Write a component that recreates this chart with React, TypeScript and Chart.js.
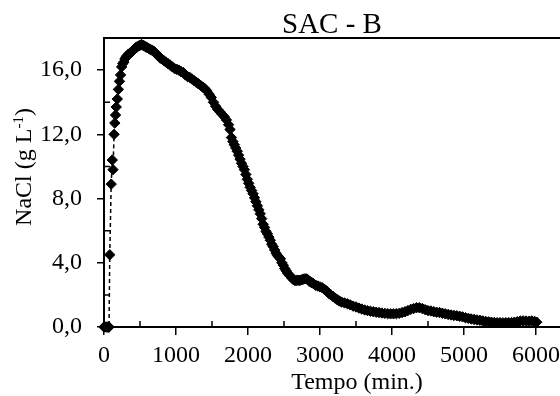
import React, { useEffect, useRef } from "react";
import { Chart, registerables } from "chart.js";

Chart.register(...registerables);

const TITLE = "SAC - B";
const X_TITLE = "Tempo (min.)";
const Y_TITLE_MAIN = "NaCl (g L";
const Y_TITLE_SUP = "-1";
const Y_TITLE_END = ")";

const X_TICKS = [0, 1000, 2000, 3000, 4000, 5000, 6000];
const X_MINOR = [500, 1500, 2500, 3500, 4500, 5500];
const Y_TICKS = [0, 4, 8, 12, 16];
const Y_MINOR = [2, 6, 10, 14];

const TIME = [
  0, 15, 30, 45, 60, 70, 80, 100, 115, 125, 140, 150, 160, 170, 185, 200, 215, 230, 245, 260,
  275, 290, 305, 320, 340, 360, 380, 400, 420, 440, 460, 480, 500, 520, 540, 560, 580, 600, 620, 640,
  660, 680, 700, 720, 740, 760, 780, 800, 830, 860, 890, 920, 950, 980, 1010, 1040, 1070, 1100, 1130, 1160,
  1190, 1220, 1250, 1280, 1310, 1340, 1370, 1400, 1430, 1460, 1490, 1520, 1550, 1580, 1610, 1640, 1670, 1700, 1730, 1750,
  1770, 1790, 1810, 1830, 1850, 1870, 1890, 1910, 1930, 1950, 1970, 1990, 2010, 2030, 2050, 2070, 2090, 2110, 2130, 2150,
  2170, 2190, 2210, 2230, 2250, 2270, 2290, 2310, 2330, 2350, 2370, 2390, 2410, 2430, 2450, 2470, 2490, 2510, 2530, 2550,
  2570, 2590, 2610, 2630, 2650, 2670, 2690, 2710, 2730, 2750, 2770, 2790, 2810, 2830, 2850, 2870, 2890, 2910, 2940, 2970,
  3000, 3030, 3060, 3090, 3120, 3150, 3180, 3210, 3240, 3270, 3300, 3340, 3380, 3420, 3460, 3500, 3540, 3580, 3620, 3660,
  3700, 3740, 3780, 3820, 3860, 3900, 3940, 3980, 4020, 4060, 4100, 4140, 4180, 4220, 4260, 4300, 4340, 4380, 4420, 4460,
  4500, 4540, 4580, 4620, 4660, 4700, 4740, 4780, 4820, 4860, 4900, 4940, 4980, 5020, 5060, 5100, 5140, 5180, 5220, 5260,
  5300, 5340, 5380, 5420, 5460, 5500, 5540, 5580, 5620, 5660, 5700, 5740, 5780, 5820, 5860, 5900, 5940, 5980, 6010,
];

const NACL = [
  0, 0, 0, 0, 0, 0, 4.5, 8.9, 10.4, 9.8, 12.0, 12.7, 13.2, 13.7, 14.2, 14.8, 15.3, 15.7, 16.2, 16.4,
  16.5, 16.7, 16.8, 16.9, 17.0, 17.05, 17.1, 17.2, 17.3, 17.4, 17.45, 17.5, 17.55, 17.6, 17.55, 17.5, 17.45, 17.4, 17.35, 17.3,
  17.25, 17.2, 17.15, 17.05, 16.95, 16.85, 16.75, 16.7, 16.6, 16.5, 16.4, 16.3, 16.2, 16.1, 16.05, 16.0, 15.9, 15.85, 15.7, 15.6,
  15.55, 15.45, 15.35, 15.25, 15.15, 15.05, 14.95, 14.85, 14.7, 14.5, 14.3, 14.0, 13.75, 13.55, 13.4, 13.25, 13.1, 12.9, 12.6, 12.3,
  11.8, 11.55, 11.35, 11.15, 10.95, 10.7, 10.45, 10.2, 10.0, 9.8, 9.5, 9.2, 8.95, 8.7, 8.5, 8.3, 8.05, 7.8, 7.55, 7.3,
  7.05, 6.75, 6.4, 6.2, 5.95, 5.8, 5.6, 5.4, 5.15, 5.0, 4.8, 4.6, 4.45, 4.35, 4.25, 4.0, 3.85, 3.65, 3.5, 3.35,
  3.25, 3.15, 3.05, 2.95, 2.9, 2.9, 2.92, 2.9, 2.92, 2.95, 2.98, 3.0, 3.0, 2.95, 2.85, 2.8, 2.75, 2.7, 2.6, 2.55,
  2.5, 2.45, 2.35, 2.25, 2.1, 2.0, 1.9, 1.8, 1.7, 1.62, 1.55, 1.5, 1.45, 1.38, 1.3, 1.25, 1.18, 1.12, 1.06, 1.02,
  0.98, 0.95, 0.92, 0.9, 0.87, 0.85, 0.83, 0.82, 0.82, 0.83, 0.85, 0.9, 0.95, 1.02, 1.1, 1.15, 1.2, 1.2, 1.15, 1.08,
  1.02, 1.0, 0.95, 0.92, 0.9, 0.86, 0.82, 0.78, 0.75, 0.72, 0.7, 0.67, 0.63, 0.58, 0.54, 0.5, 0.47, 0.44, 0.42, 0.38,
  0.35, 0.32, 0.3, 0.28, 0.27, 0.27, 0.26, 0.27, 0.27, 0.28, 0.3, 0.33, 0.37, 0.38, 0.37, 0.36, 0.38, 0.35, 0.3,
];

const FONT = "'Liberation Serif', 'Times New Roman', serif";

const framePlugin = {
  id: "frame",
  afterDatasetsDraw(chart: any) {
    const { ctx, chartArea, scales } = chart;
    const { left, right, top, bottom } = chartArea;
    ctx.save();
    ctx.strokeStyle = "#000";
    ctx.lineWidth = 2;
    ctx.beginPath();
    ctx.moveTo(left - 1, top);
    ctx.lineTo(right, top);
    ctx.stroke();
    ctx.lineWidth = 1.5;
    ctx.beginPath();
    Y_MINOR.forEach((v) => {
      const y = scales.y.getPixelForValue(v);
      ctx.moveTo(left, y);
      ctx.lineTo(left + 6, y);
    });
    X_MINOR.forEach((v) => {
      const x = scales.x.getPixelForValue(v);
      ctx.moveTo(x, bottom);
      ctx.lineTo(x, bottom - 6);
    });
    ctx.stroke();

    // x axis title
    ctx.fillStyle = "#000";
    ctx.font = `24px ${FONT}`;
    ctx.textAlign = "center";
    ctx.textBaseline = "alphabetic";
    ctx.fillText(X_TITLE, 357, 389);

    // y axis title with superscript
    ctx.translate(31, 167);
    ctx.rotate(-Math.PI / 2);
    const mainFont = `24px ${FONT}`;
    const supFont = `15px ${FONT}`;
    ctx.font = mainFont;
    const w1 = ctx.measureText(Y_TITLE_MAIN).width;
    const w3 = ctx.measureText(Y_TITLE_END).width;
    ctx.font = supFont;
    const w2 = ctx.measureText(Y_TITLE_SUP).width;
    const total = w1 + w2 + w3;
    let x0 = -total / 2;
    ctx.textAlign = "left";
    ctx.font = mainFont;
    ctx.fillText(Y_TITLE_MAIN, x0, 0);
    x0 += w1;
    ctx.font = supFont;
    ctx.fillText(Y_TITLE_SUP, x0, -8);
    x0 += w2;
    ctx.font = mainFont;
    ctx.fillText(Y_TITLE_END, x0, 0);
    ctx.restore();
  },
};

export default function App() {
  const ref = useRef<HTMLCanvasElement | null>(null);
  useEffect(() => {
    if (!ref.current) return;
    const chart = new Chart(ref.current, {
      type: "scatter",
      data: {
        datasets: [
          {
            data: TIME.map((t, i) => ({ x: t, y: NACL[i] })),
            showLine: true,
            borderColor: "#000",
            borderWidth: 1.5,
            borderDash: [4, 3],
            tension: 0,
            pointStyle: "rectRot",
            pointRadius: 5.2,
            pointBackgroundColor: "#000",
            pointBorderColor: "#000",
            pointBorderWidth: 1,
            clip: false as any,
          },
        ],
      },
      options: {
        animation: false,
        responsive: false,
        devicePixelRatio: 1,
        layout: { padding: 0, autoPadding: false },
        plugins: {
          legend: { display: false },
          tooltip: { enabled: false },
          title: {
            display: true,
            text: TITLE,
            color: "#000",
            fullSize: false,
            font: { family: FONT, size: 29, weight: "normal", lineHeight: 1 },
            padding: { top: 11, bottom: -2 },
          },
        },
        scales: {
          x: {
            type: "linear",
            min: 0,
            max: 6333,
            afterBuildTicks: (scale: any) => {
              scale.ticks = X_TICKS.map((v) => ({ value: v }));
            },
            afterFit: (scale: any) => {
              scale.height = 69;
              scale.paddingLeft = 0;
              scale.paddingRight = 0;
            },
            ticks: {
              color: "#000",
              font: { family: FONT, size: 24 },
              padding: 6,
              maxRotation: 0,
              autoSkip: false,
              callback: (v: any) => String(v),
            },
            grid: {
              display: true,
              drawOnChartArea: false,
              drawTicks: true,
              tickLength: 8,
              color: "#000",
              lineWidth: 1.5,
            },
            border: { display: true, color: "#000", width: 2 },
          },
          y: {
            type: "linear",
            min: 0,
            max: 18,
            afterBuildTicks: (scale: any) => {
              scale.ticks = Y_TICKS.map((v) => ({ value: v }));
            },
            afterFit: (scale: any) => {
              scale.width = 104;
              scale.paddingTop = 0;
              scale.paddingBottom = 0;
            },
            ticks: {
              color: "#000",
              font: { family: FONT, size: 24 },
              padding: 15,
              autoSkip: false,
              callback: (v: any) => Number(v).toFixed(1).replace(".", ","),
            },
            grid: {
              display: true,
              drawOnChartArea: false,
              drawTicks: true,
              tickLength: 7,
              color: "#000",
              lineWidth: 1.5,
            },
            border: { display: true, color: "#000", width: 2 },
          },
        },
      },
      plugins: [framePlugin],
    });
    return () => chart.destroy();
  }, []);

  return (
    <div style={{ position: "absolute", left: 0, top: 0, width: 560, height: 396, background: "#fff" }}>
      <canvas ref={ref} width={560} height={396} style={{ width: 560, height: 396 }} />
    </div>
  );
}
